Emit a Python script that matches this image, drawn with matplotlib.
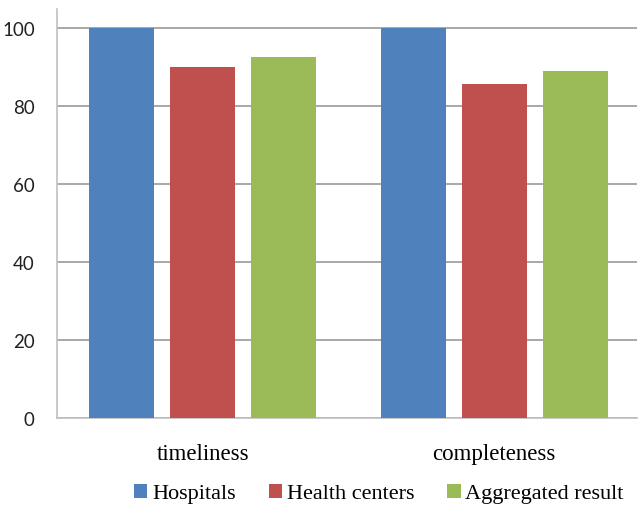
import matplotlib.pyplot as plt
import numpy as np

# categories and series
categories = ['timeliness', 'completeness']
series_names = ['Hospitals', 'Health centers', 'Aggregated result']
hospitals = [100, 100]
health_centers = [90.0, 85.6]
aggregated = [92.6, 89.0]
yticks = [0, 20, 40, 60, 80, 100]

colors = ['#4F81BD', '#C0504D', '#9BBB59']

fig = plt.figure(figsize=(6.38, 5.06), dpi=100)
ax = fig.add_axes([57 / 638, 87 / 506, 580 / 638, 409.5 / 506])

x = np.arange(len(categories))
w = 0.223
step = 0.278
for i, (vals, name) in enumerate(zip([hospitals, health_centers, aggregated], series_names)):
    ax.bar(x + (i - 1) * step, vals, w, color=colors[i], label=name, zorder=3)

ax.set_xlim(-0.5, 1.49)
ax.set_ylim(0, 105)
ax.set_yticks(yticks)
ax.set_yticklabels([str(t) for t in yticks], fontsize=13.5, family='Lato', color='#222222')
ax.tick_params(axis='y', length=0, pad=16)
ax.set_xticks(x)
ax.set_xticklabels(categories, fontsize=16.5, family='Liberation Serif')
ax.tick_params(axis='x', length=0, pad=18)

ax.grid(axis='y', color='#9a9a9a', linewidth=1.2, zorder=0)
for s in ['top', 'right']:
    ax.spines[s].set_visible(False)
for s in ['left', 'bottom']:
    ax.spines[s].set_color('#c0c0c0')
    ax.spines[s].set_linewidth(1.2)

ax.legend(loc='upper center', bbox_to_anchor=(0.555, -0.16), ncol=3, frameon=False,
          prop={'family': 'Liberation Serif', 'size': 16},
          handlelength=0.6, handleheight=0.6, handletextpad=0.2, columnspacing=1.5,
          borderaxespad=0, borderpad=0)

fig.savefig('out.png', dpi=100)
